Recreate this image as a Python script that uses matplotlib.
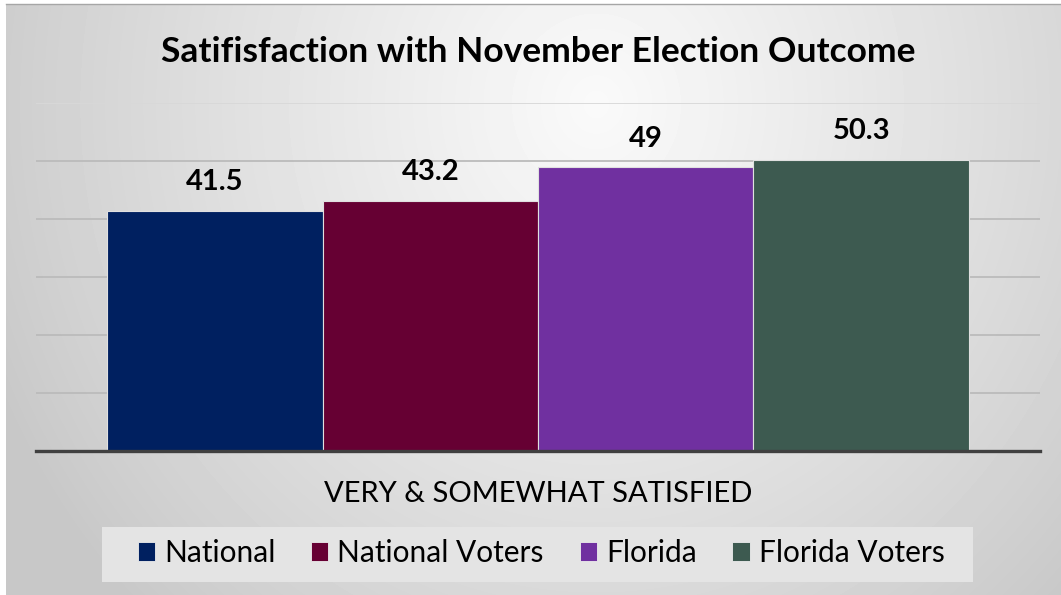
import numpy as np
import matplotlib
matplotlib.use("Agg")
import matplotlib.pyplot as plt
from matplotlib.patches import Patch, Rectangle

plt.rcParams['font.family'] = ['Lato', 'DejaVu Sans']

title = "Satifisfaction with November Election Outcome"
category = "VERY & SOMEWHAT SATISFIED"
series = ["National", "National Voters", "Florida", "Florida Voters"]
values = [41.5, 43.2, 49, 50.3]
colors = ["#002060", "#660033", "#7030a0", "#3d5a50"]

W, H = 1061, 595
fig = plt.figure(figsize=(W / 100, H / 100), dpi=100)
fig.patch.set_facecolor("white")

# gray radial backdrop behind the whole chart, light near the top middle
bg = fig.add_axes([6 / W, 0, 1 - 6 / W, 1 - 4 / H], zorder=-10)
yy, xx = np.mgrid[0:591, 0:1055]
r = np.sqrt(((xx - 590) / 650.0) ** 2 + ((yy - 100) / 700.0) ** 2)
shade = 0.785 + 0.195 * np.clip(1 - r, 0, 1) ** 0.9
bg.imshow(shade, cmap="gray", vmin=0, vmax=1, aspect="auto",
          extent=[0, 1, 0, 1], interpolation="bilinear")
bg.set_xticks([])
bg.set_yticks([])
for s in ["left", "right", "bottom"]:
    bg.spines[s].set_visible(False)
bg.spines["top"].set_color("#a6a6a6")
bg.spines["top"].set_linewidth(1.0)

ax = fig.add_axes([36 / W, 1 - 451 / H, 1004 / W, (451 - 103.3) / H])
ax.set_facecolor("none")

x = np.arange(len(values))
bars = ax.bar(x, values, width=1.0, color=colors, edgecolor="#e0e0e0",
              linewidth=0.8, zorder=3)
ax.bar_label(bars, labels=["%g" % v for v in values], padding=11,
             fontsize=21, fontweight="bold", color="black")

ax.set_xlim(-0.5 - 0.33, len(values) - 0.5 + 0.33)
ax.set_ylim(0, 60)
ax.set_yticks(np.arange(10, 61, 10))
ax.set_xticks([])
ax.tick_params(left=False, labelleft=False)
for t in ax.get_yticks():
    ax.axhline(t, color="#d8d8d8" if t == 60 else "#bbbbbb", lw=1.3, zorder=1)
for s in ["left", "right", "top"]:
    ax.spines[s].set_visible(False)
ax.spines["bottom"].set_color("#404040")
ax.spines["bottom"].set_linewidth(2.4)
ax.spines["bottom"].set_zorder(4)

fig.text(538 / W, 1 - 61.7 / H, title, ha="center", va="baseline",
         fontsize=25.5, fontweight="bold", color="black")
fig.text(538 / W, 1 - 501.7 / H, category, ha="center", va="baseline",
         fontsize=21, color="black")

# legend panel
fig.patches.append(Rectangle((102 / W, 1 - 582 / H), 871 / W, 55 / H,
                             transform=fig.transFigure, facecolor="#e4e4e4",
                             edgecolor="none", zorder=1))
handles = [Patch(facecolor=c, edgecolor="#eeeeee", linewidth=0.6) for c in colors]
leg = fig.legend(handles, series, loc="center", ncol=4,
                 bbox_to_anchor=(541 / W, 1 - 553 / H),
                 fontsize=21.5, frameon=False,
                 handlelength=0.58, handleheight=0.58, handletextpad=0.3,
                 columnspacing=1.2, borderpad=0.2)

fig.savefig("out.png", dpi=100)
